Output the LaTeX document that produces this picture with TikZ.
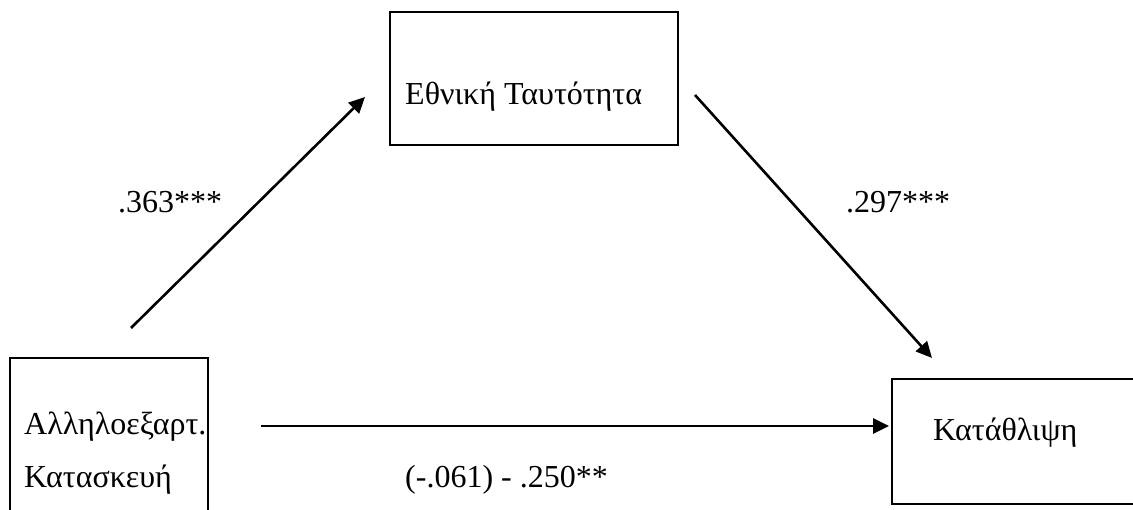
\documentclass[tikz,border=0pt]{standalone}
\usepackage{fontspec}
\setmainfont{Liberation Serif}
\usetikzlibrary{arrows.meta}
\begin{document}
\begin{tikzpicture}[x=1pt,y=-1pt,
  boxstyle/.style={draw=black,line width=2pt,rectangle,inner sep=0pt},
  txt/.style={inner sep=0pt,anchor=base west,font=\fontsize{32}{38}\selectfont},
  arr/.style={line width=2.6pt,-{Triangle[length=16pt,width=15pt]}}]
\useasboundingbox (0,0) rectangle (1133,510);
\clip (0,0) rectangle (1133,510);
% boxes
\node[boxstyle,minimum width=198pt,minimum height=190pt] (src) at (109,453) {};
\node[boxstyle,minimum width=288pt,minimum height=133pt] (med) at (534,78.5) {};
\node[boxstyle,minimum width=260pt,minimum height=125pt] (out) at (1022,441.5) {};
% box texts
\node[txt] (srcA) at (24,435) {Αλληλοεξαρτ.};
\node[txt] (srcB) at (24,488) {Κατασκευή};
\node[txt] (medT) at (405,105) {Εθνική Ταυτότητα};
\node[txt] (outT) at (933,441) {Κατάθλιψη};
% arrow end points
\coordinate (a1s) at (131,328);
\coordinate (a1e) at (365,97);
\coordinate (a2s) at (695,95);
\coordinate (a2e) at (932,358);
\coordinate (a3s) at (261,426);
\coordinate (a3e) at (889,426);
\draw[arr] (a1s) -- (a1e);
\draw[arr] (a2s) -- (a2e);
\draw[arr] (a3s) -- (a3e);
% labels
\node[txt] (l1) at (118,213) {.363***};
\node[txt] (l2) at (846,213) {.297***};
\node[txt] (l3) at (405,488) {(-.061) - .250**};
\end{tikzpicture}
\end{document}
